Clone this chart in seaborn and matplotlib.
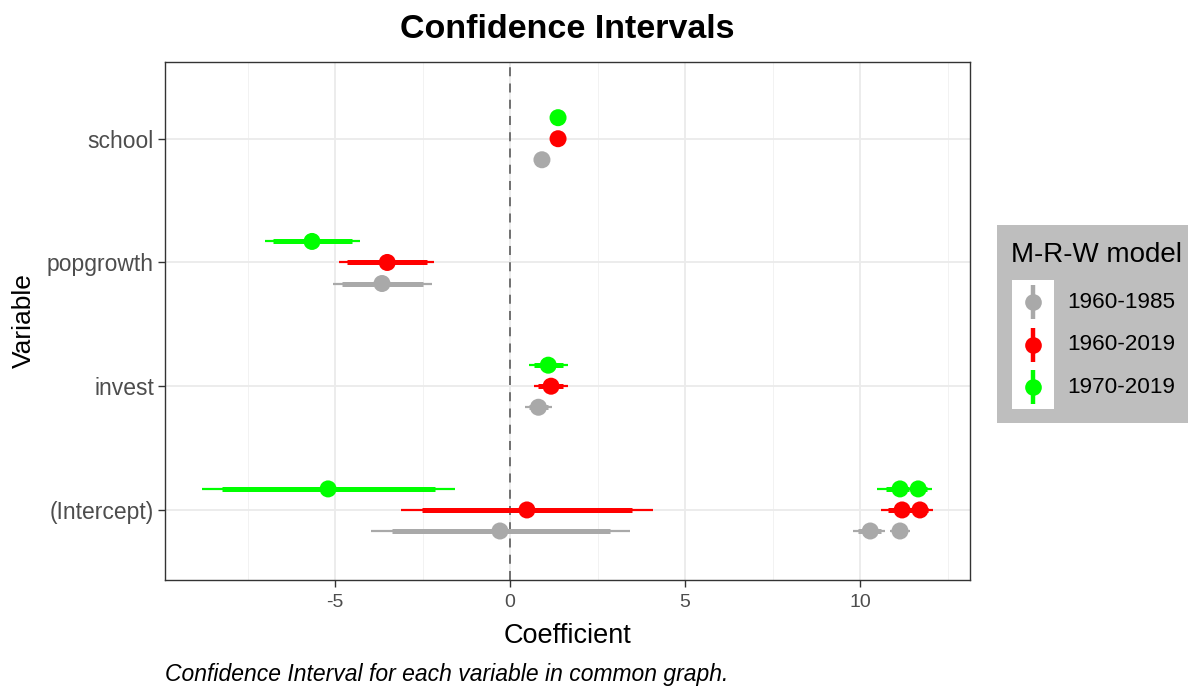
"""Coefficient plot of the M-R-W model confidence intervals."""

import numpy as np
import pandas as pd
import matplotlib
matplotlib.use('Agg')
import matplotlib.pyplot as plt
from matplotlib.patches import Rectangle
import seaborn as sns

# one row per estimate (the intercept row holds three estimates per model)
TERMS = ['(Intercept)', 'invest', 'popgrowth', 'school']
MODELS = ['1960-1985', '1960-2019', '1970-2019']
COLORS = ['#A9A9A9', '#FF0000', '#00FF00']

term = ['(Intercept)', '(Intercept)', '(Intercept)', 'invest', 'popgrowth', 'school',
        '(Intercept)', '(Intercept)', '(Intercept)', 'invest', 'popgrowth', 'school',
        '(Intercept)', '(Intercept)', '(Intercept)', 'invest', 'popgrowth', 'school']
model = ['1960-1985'] * 6 + ['1960-2019'] * 6 + ['1970-2019'] * 6
estimate = [-0.29, 10.29, 11.14, 0.81, -3.66, 0.91,
            0.48, 11.20, 11.71, 1.17, -3.51, 1.37,
            -5.20, 11.14, 11.66, 1.09, -5.66, 1.37]
inner_lo = [-3.37, 9.95, 10.95, 0.55, -4.80, 0.85,
            -2.51, 10.80, 11.50, 0.80, -4.66, 1.30,
            -8.24, 10.75, 11.45, 0.68, -6.77, 1.30]
inner_hi = [2.86, 10.60, 11.35, 1.08, -2.49, 0.97,
            3.49, 11.50, 11.95, 1.52, -2.37, 1.44,
            -2.14, 11.40, 11.90, 1.50, -4.51, 1.44]
outer_lo = [-3.97, 9.80, 10.85, 0.43, -5.06, 0.78,
            -3.11, 10.60, 11.40, 0.67, -4.89, 1.22,
            -8.81, 10.47, 11.35, 0.54, -7.00, 1.22]
outer_hi = [3.43, 10.70, 11.43, 1.20, -2.23, 1.04,
            4.09, 11.60, 12.09, 1.66, -2.17, 1.52,
            -1.57, 11.50, 12.06, 1.64, -4.29, 1.52]

DODGE = 0.17
FONT = ['Liberation Sans', 'DejaVu Sans']
W, H = 1188, 686
PANEL = (165, 62, 970, 580)  # left, top, right, bottom in pixels


def main():
    df = pd.DataFrame({
        'term': term, 'model': model, 'estimate': estimate,
        'inner_lo': inner_lo, 'inner_hi': inner_hi,
        'outer_lo': outer_lo, 'outer_hi': outer_hi,
    })
    df['y'] = (df['term'].map({t: i + 1 for i, t in enumerate(TERMS)})
               + df['model'].map({m: (i - 1) * DODGE for i, m in enumerate(MODELS)}))
    palette = dict(zip(MODELS, COLORS))

    sns.set_style('white')
    plt.rcParams['font.family'] = FONT

    fig = plt.figure(figsize=(W / 100, H / 100), dpi=100)
    l, t, r, b = PANEL
    ax = fig.add_axes([l / W, 1 - b / H, (r - l) / W, (b - t) / H])

    # grid like theme_bw
    for x in np.arange(-7.5, 13.5, 5):
        ax.axvline(x, color='#F2F2F2', lw=0.7, zorder=0)
    for x in [-5, 0, 5, 10]:
        ax.axvline(x, color='#EBEBEB', lw=1.3, zorder=0)
    for y in range(1, len(TERMS) + 1):
        ax.axhline(y, color='#EBEBEB', lw=1.3, zorder=0)
    ax.axvline(0, color='#666666', lw=1.3, ls=(0, (5, 4)), zorder=1)

    for m in MODELS:
        sub = df[df['model'] == m]
        ax.hlines(sub['y'], sub['outer_lo'], sub['outer_hi'], color=palette[m], lw=1.6, zorder=2)
        ax.hlines(sub['y'], sub['inner_lo'], sub['inner_hi'], color=palette[m], lw=3.6, zorder=2)
    sns.scatterplot(data=df, x='estimate', y='y', hue='model', palette=palette,
                    hue_order=MODELS, s=150, linewidth=0, legend=False, zorder=3, ax=ax)

    ax.set_xlim(-9.86, 13.14)
    ax.set_ylim(0.434, 4.62)
    ax.set_xticks([-5, 0, 5, 10])
    ax.set_xticklabels(['-5', '0', '5', '10'])
    ax.set_yticks(range(1, len(TERMS) + 1))
    ax.set_yticklabels(TERMS)
    ax.tick_params(axis='both', length=5, width=1, color='#333333', labelcolor='#4D4D4D')
    ax.tick_params(axis='x', bottom=True, labelsize=14, pad=5)
    ax.tick_params(axis='y', left=True, labelsize=16.5, pad=3)
    for s in ax.spines.values():
        s.set_color('#333333')
        s.set_linewidth(1)

    ax.set_xlabel('Coefficient', fontsize=19.5, color='black', va='center')
    ax.xaxis.set_label_coords(((l + r) / 2 - l) / (r - l), (b - 636) / (b - t))
    ax.set_ylabel('Variable', fontsize=19, color='black', va='center')
    ax.yaxis.set_label_coords((24 - l) / (r - l), 0.5 + (b - 321 - (b - t) / 2) / (b - t))
    fig.text((l + r) / 2 / W, 1 - 29 / H, 'Confidence Intervals', fontsize=24.5,
             fontweight='bold', color='black', ha='center', va='center')
    fig.text(l / W, 1 - 674 / H, 'Confidence Interval for each variable in common graph.',
             fontsize=16.5, style='italic', color='black', va='center', ha='left')

    # legend box in the ggplot style: grey background, white key column
    lax = fig.add_axes([997 / W, 1 - 423 / H, 191 / W, 198 / H])
    lax.set_xlim(0, 191)
    lax.set_ylim(198, 0)
    lax.set_facecolor('#BEBEBE')
    lax.set_xticks([])
    lax.set_yticks([])
    for s in lax.spines.values():
        s.set_visible(False)
    lax.text(14, 30, 'M-R-W model', fontsize=20, color='black', va='center', ha='left')
    lax.add_patch(Rectangle((15, 55), 42, 129, facecolor='white', edgecolor='none'))
    for i, (m, c) in enumerate(zip(MODELS, COLORS)):
        yc = 77 + i * 42.5
        lax.vlines(36, yc - 17, yc + 17, color=c, lw=3.2)
        lax.plot(36, yc, 'o', color=c, markersize=12, markeredgewidth=0)
        lax.text(70, yc, m, fontsize=16.2, color='black', va='center', ha='left')

    fig.savefig('out.png', dpi=100)


if __name__ == '__main__':
    main()
